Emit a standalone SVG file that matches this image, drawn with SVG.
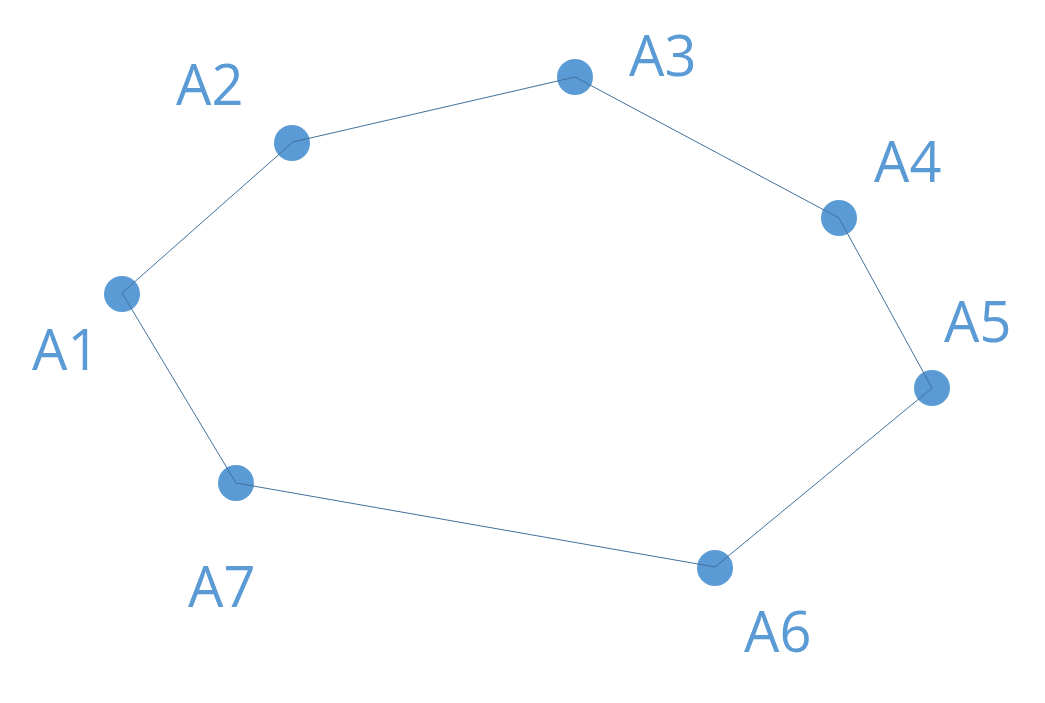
<svg xmlns="http://www.w3.org/2000/svg" width="1045" height="703" viewBox="0 0 1045 703">
<style>
.node circle{fill:#5b9bd5;}
.node text{font-family:"Open Sans","Liberation Sans",sans-serif;font-size:56px;fill:#5b9bd5;}
.edge{fill:none;stroke:#41719c;stroke-width:1;}
</style>
<rect width="1045" height="703" fill="#ffffff"/>
<g id="A1" class="node"><circle cx="122" cy="294" r="18"/><text x="32" y="370">A1</text></g>
<g id="A2" class="node"><circle cx="292" cy="143" r="18"/><text x="176" y="105">A2</text></g>
<g id="A3" class="node"><circle cx="575" cy="77" r="18"/><text x="629" y="76">A3</text></g>
<g id="A4" class="node"><circle cx="839" cy="218" r="18"/><text x="874" y="182">A4</text></g>
<g id="A5" class="node"><circle cx="932" cy="388" r="18"/><text x="944" y="342">A5</text></g>
<g id="A6" class="node"><circle cx="715" cy="568" r="18"/><text x="744" y="652">A6</text></g>
<g id="A7" class="node"><circle cx="236" cy="483" r="18"/><text x="188" y="607">A7</text></g>
<g id="connectors">
<polygon class="edge" points="122,293 293,142 575,77 839,218 932,388 715,567 236,483"/>
</g>
</svg>
